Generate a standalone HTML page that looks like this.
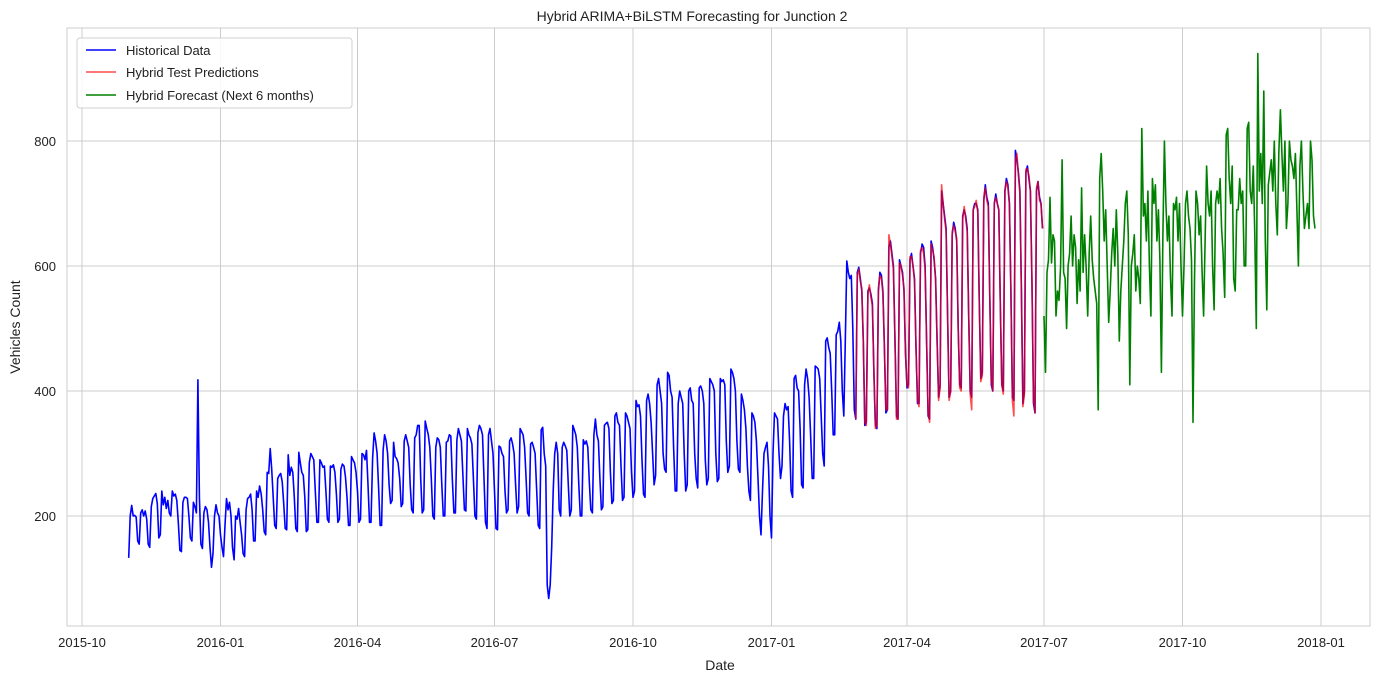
<!DOCTYPE html>
<html><head><meta charset="utf-8">
<style>
body{margin:0;background:#fff;}
svg{display:block;font-family:"Liberation Sans","DejaVu Sans",sans-serif;}
</style></head>
<body>
<svg id="chart" width="1384" height="684" viewBox="0 0 1384 684" xmlns="http://www.w3.org/2000/svg">
<rect x="0" y="0" width="1384" height="684" fill="#fff"/>
<text x="692" y="21" text-anchor="middle" font-size="14" fill="#222">Hybrid ARIMA+BiLSTM Forecasting for Junction 2</text>
<g id="grid"></g>
<g id="series"></g>
<rect x="67" y="28" width="1303" height="598" fill="none" stroke="#cccccc" stroke-width="1"/>
<g id="axes"></g>
<text x="720" y="670" text-anchor="middle" font-size="14" fill="#222">Date</text>
<text transform="translate(20,327) rotate(-90)" text-anchor="middle" font-size="14" fill="#222">Vehicles Count</text>
<g>
<rect x="77" y="38" width="275" height="70" rx="3" fill="#fff" fill-opacity="0.85" stroke="#d0d0d0"/>
<line x1="86" y1="50" x2="116" y2="50" stroke="#0000ff" stroke-width="1.6"/>
<text x="126" y="55" font-size="13" fill="#222">Historical Data</text>
<line x1="86" y1="72" x2="116" y2="72" stroke="rgba(255,0,0,0.7)" stroke-width="1.6"/>
<text x="126" y="77" font-size="13" fill="#222">Hybrid Test Predictions</text>
<line x1="86" y1="95" x2="116" y2="95" stroke="#008000" stroke-width="1.6"/>
<text x="126" y="100" font-size="13" fill="#222">Hybrid Forecast (Next 6 months)</text>
</g>
</svg>
<script>
const xTickLabels=["2015-10","2016-01","2016-04","2016-07","2016-10","2017-01","2017-04","2017-07","2017-10","2018-01"];
const xTickDays=[0,92,183,274,366,458,548,639,731,823];
const yTicks=[200,400,600,800];
const histStartDay=31;
const historical=[
133,200,217,200,201,198,160,
155,205,210,200,208,195,155,
150,215,228,232,236,220,165,
170,240,218,230,212,225,205,
200,240,232,235,225,190,145,
143,222,230,230,228,200,165,
160,222,215,205,418,230,155,
148,205,215,210,190,150,118,
140,200,218,205,200,170,150,
135,185,228,210,222,200,150,
130,200,195,212,190,170,140,
135,210,228,230,235,210,160,
160,240,230,248,235,210,175,
170,270,268,308,275,230,185,
180,260,265,268,255,220,180,
178,298,265,278,270,230,180,
175,302,285,270,265,230,175,
178,285,300,295,290,240,190,
190,290,285,278,280,240,195,
190,280,278,282,270,235,190,
195,275,283,280,262,230,185,
185,295,290,285,270,240,190,
195,300,298,290,305,250,190,
190,292,333,320,300,245,185,
185,305,330,320,300,250,220,
225,318,295,292,285,260,215,
220,320,330,320,310,250,210,
205,325,330,345,345,260,205,
210,352,340,330,310,260,200,
195,310,325,322,310,250,200,
200,318,320,330,328,260,205,
205,322,340,330,320,265,210,
208,340,330,325,315,260,200,
195,333,345,340,330,260,190,
180,330,340,320,300,240,180,
178,312,310,300,295,240,205,
210,320,325,315,300,250,205,
215,340,335,330,310,260,205,
200,315,318,310,300,240,185,
180,338,342,300,280,90,68,
90,150,240,300,318,300,210,
200,310,318,312,305,250,200,
210,345,338,330,310,250,200,
200,322,315,320,310,255,210,
205,330,355,330,320,260,210,
215,345,348,350,340,270,220,
225,360,365,350,345,280,225,
230,365,360,350,340,270,230,
240,385,375,378,360,290,235,
230,385,395,380,350,300,250,
265,410,420,400,380,300,275,
270,430,425,400,390,310,240,
240,380,400,390,380,300,240,
250,400,405,385,380,300,260,
245,405,408,400,380,290,250,
260,420,415,410,400,300,255,
260,420,415,418,410,320,270,
280,435,430,420,400,320,275,
270,395,385,370,340,280,240,
225,365,360,350,320,260,200,
170,240,300,310,318,280,200,
165,300,365,360,355,300,260,
280,360,380,370,375,320,240,
230,420,425,405,400,340,250,
245,410,435,420,390,330,260,
260,440,438,435,420,360,300,
280,480,485,470,460,400,330,
330,490,495,510,480,400,360,
480,608,590,580,585,500,370,
355,590,598,580,560,480,345,
350,560,565,555,540,430,345,
340,560,590,585,560,470,365,
370,630,640,620,600,480,360,
355,610,600,590,560,460,405,
410,610,620,600,580,470,380,
380,620,635,630,600,480,360,
355,640,630,610,580,480,390,
410,720,700,680,660,520,390,
400,650,670,660,640,500,410,
405,680,690,680,660,520,400,
390,690,700,700,690,540,420,
430,705,730,710,700,550,410,
400,700,715,700,690,540,410,
400,720,740,730,700,560,390,
385,785,770,750,720,560,380,
400,750,760,740,720,570,380,
365,720,735,710,700,660];
const testStartDay=514;
const testPred=[
355,585,595,575,565,480,350,
345,555,570,550,535,430,340,
345,565,585,580,555,470,370,
370,650,635,615,595,480,355,
355,605,600,585,565,460,410,
405,615,615,600,575,470,385,
375,625,630,620,595,480,365,
350,635,625,615,575,480,385,
405,730,700,675,655,520,385,
400,655,665,655,645,500,405,
400,675,695,675,655,520,395,
370,690,695,705,685,540,415,
425,710,725,705,695,550,415,
400,700,710,700,690,540,410,
395,720,735,725,700,560,385,
360,770,780,745,715,560,375,
395,755,755,745,720,570,385,
365,725,735,705,700,660];
const forecastStartDay=639;
const forecast=[
520,430,590,610,710,605,650,
640,520,560,545,600,770,590,
580,500,600,620,680,600,650,
630,540,610,560,725,590,650,
600,520,620,680,610,580,560,
540,370,740,780,720,640,690,
600,510,560,620,660,600,690,
620,480,560,600,640,700,720,
650,410,600,620,650,560,600,
580,540,820,680,700,640,720,
600,520,740,700,730,640,690,
610,430,650,800,700,640,680,
580,520,700,690,710,640,700,
600,520,600,700,720,680,660,
610,350,580,720,700,650,680,
590,520,640,760,700,680,720,
600,530,700,720,700,740,660,
620,550,810,820,740,700,760,
580,560,690,690,740,700,720,
600,600,820,830,720,700,760,
650,500,940,720,780,700,880,
640,530,730,750,770,720,800,
700,650,780,850,780,720,800,
660,700,800,770,760,740,780,
690,600,760,800,720,660,680,
700,660,800,770,680,660];

const NS="http://www.w3.org/2000/svg";
const X0=82, PX=(1321-82)/823;
function xScale(d){return X0+d*PX;}
function yScale(v){return 516-(v-200)*0.625;}
const grid=document.getElementById('grid');
const axes=document.getElementById('axes');
const series=document.getElementById('series');
function mk(tag,attrs,parent){const e=document.createElementNS(NS,tag);for(const k in attrs)e.setAttribute(k,attrs[k]);parent.appendChild(e);return e;}
xTickDays.forEach((d,i)=>{
  const x=xScale(d);
  const g=mk('line',{x1:x,y1:28,x2:x,y2:626,stroke:'#cccccc','stroke-width':1},grid);
  
  
  const t=mk('text',{x:x,y:647,'text-anchor':'middle','font-size':13,fill:'#222'},axes);
  t.textContent=xTickLabels[i];
  
  
});
yTicks.forEach(v=>{
  const y=yScale(v);
  const g=mk('line',{x1:67,y1:y,x2:1370,y2:y,stroke:'#cccccc','stroke-width':1},grid);
  
  
  const t=mk('text',{x:56,y:y+5,'text-anchor':'end','font-size':13,fill:'#222'},axes);
  t.textContent=v;
  
  
});
function line(arr,start,color,name){
  const pts=arr.map((v,i)=>xScale(start+i).toFixed(1)+','+yScale(v).toFixed(1)).join(' ');
  const p=mk('polyline',{points:pts,fill:'none',stroke:color,'stroke-width':1.6,'stroke-linejoin':'round'},series);
  
  
}
line(historical,histStartDay,'#0000ff','historical-line');
line(testPred,testStartDay,'rgba(255,0,0,0.7)','test-predictions-line');
line(forecast,forecastStartDay,'#008000','forecast-line');
</script>
</body></html>
